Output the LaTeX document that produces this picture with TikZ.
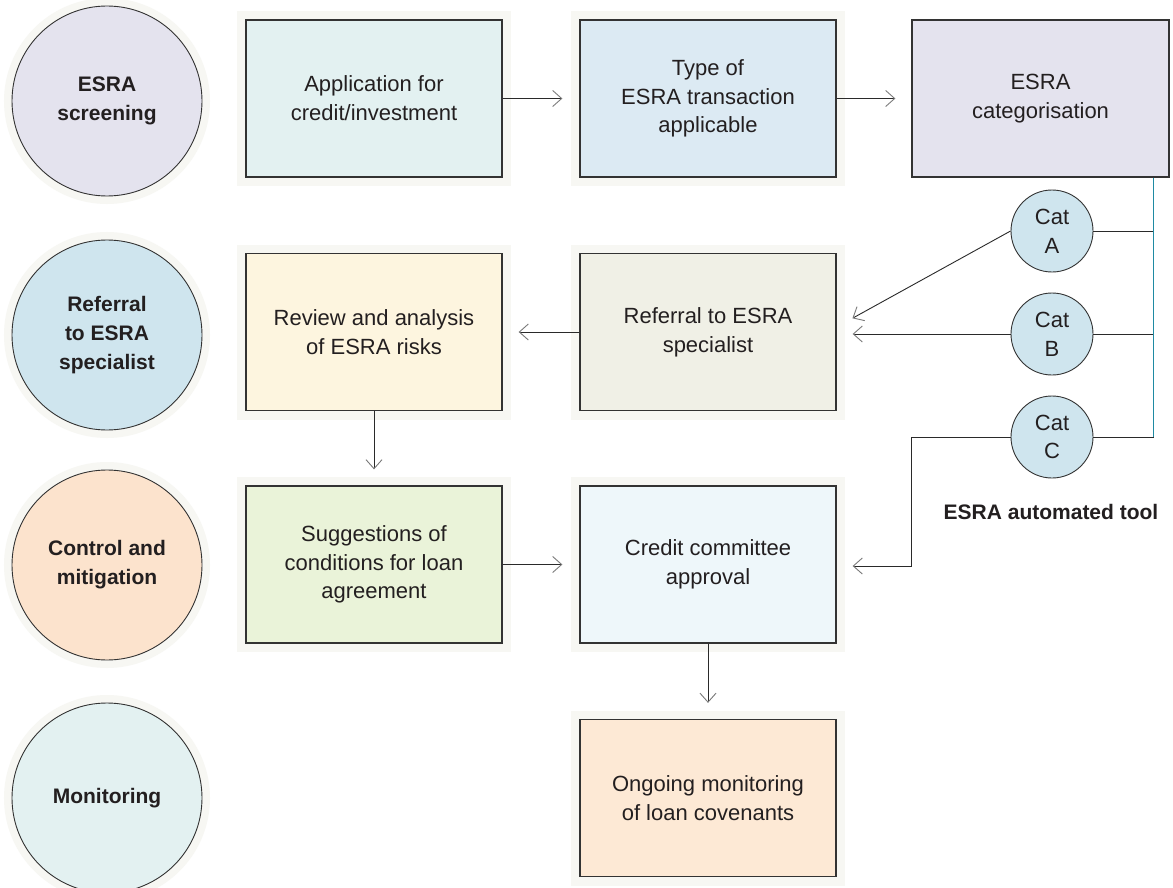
\documentclass[tikz,border=0pt]{standalone}
\usepackage{fontspec}
\setmainfont{Liberation Sans}
\usetikzlibrary{arrows.meta,calc}
\definecolor{txt}{HTML}{231F20}
\definecolor{boxline}{HTML}{333333}
\definecolor{lncol}{HTML}{2A2A2A}
\definecolor{tipcol}{HTML}{7A7A7A}
\definecolor{halocol}{HTML}{F7F7F3}
\definecolor{tealline}{HTML}{1F8AA3}
\definecolor{cLav}{HTML}{E4E3EE}
\definecolor{cBlue}{HTML}{CFE5EE}
\definecolor{cPeach}{HTML}{FCE3CD}
\definecolor{cCyan}{HTML}{E3F1F1}
\definecolor{bApp}{HTML}{E3F1F1}
\definecolor{bType}{HTML}{DCEAF3}
\definecolor{bRev}{HTML}{FDF5DF}
\definecolor{bRef}{HTML}{F0F0E6}
\definecolor{bSug}{HTML}{EAF3D9}
\definecolor{bCred}{HTML}{EEF7FA}
\definecolor{bMon}{HTML}{FDE9D5}
\newcommand{\myreg}{\fontsize{22}{28.8}\selectfont}
\newcommand{\mybold}{\bfseries\fontsize{21}{28.8}\selectfont}
\begin{document}
\begin{tikzpicture}[x=1pt,y=-1pt,
  stepbox/.style={rectangle, draw=boxline, line width=1.3pt, minimum width=256pt,
    minimum height=157pt, inner sep=0pt, align=center, font=\myreg, text=txt},
  halo/.style={preaction={draw=halocol, line width=18pt}},
  phase/.style={circle, draw=boxline, line width=0.9pt, minimum size=190pt,
    inner sep=0pt, align=center, font=\mybold, text=txt,
    preaction={draw=halocol, line width=16pt}},
  catnode/.style={circle, draw=boxline, line width=0.9pt, minimum size=82pt,
    inner sep=0pt, fill=cBlue, align=center, font=\myreg, text=txt},
  arr/.style={draw=lncol, line width=0.9pt,
    -{Straight Barb[length=9pt,width=16pt,line width=0.9pt,color=tipcol]}},
  plain/.style={draw=lncol, line width=0.9pt}
]
\path[use as bounding box, clip] (0,0) rectangle (1173,888);
\fill[white] (0,0) rectangle (1173,888);

% phases
\node[phase, fill=cLav]   (p1) at (107,101) {ESRA\\screening};
\node[phase, fill=cBlue]  (p2) at (107,335) {Referral\\to ESRA\\specialist};
\node[phase, fill=cPeach] (p3) at (107,565) {Control and\\mitigation};
\node[phase, fill=cCyan]  (p4) at (107,798) {Monitoring};

% boxes
\node[stepbox, halo, fill=bApp]  (b1) at (374,98.5) {Application for\\credit/investment};
\node[stepbox, halo, fill=bType] (b2) at (708,98.5) {Type of\\ESRA transaction\\applicable};
\node[stepbox, fill=cLav, minimum width=257pt] (b3) at (1040.5,98.5) {ESRA\\categorisation};
\node[stepbox, halo, fill=bRev]  (b4) at (374,332) {Review and analysis\\of ESRA risks};
\node[stepbox, halo, fill=bRef]  (b5) at (708,332) {Referral to ESRA\\specialist};
\node[stepbox, halo, fill=bSug]  (b6) at (374,564.5) {Suggestions of\\conditions for loan\\agreement};
\node[stepbox, halo, fill=bCred] (b7) at (708,564.5) {Credit committee\\approval};
\node[stepbox, halo, fill=bMon]  (b8) at (708,798) {Ongoing monitoring\\of loan covenants};

% categories
\node[catnode] (cA) at (1052,231) {Cat\\A};
\node[catnode] (cB) at (1052,334) {Cat\\B};
\node[catnode] (cC) at (1052,437) {Cat\\C};
\node[font=\mybold, text=txt] (tool) at (1051,512) {ESRA automated tool};

% category bus
\coordinate (busTop) at ($(b3.south east)+(-16,0)$);
\draw[plain] (cA.east) -- (cA.east -| busTop);
\draw[plain] (cB.east) -- (cB.east -| busTop);
\draw[plain] (cC.east) -- (cC.east -| busTop);
\draw[draw=tealline, line width=1pt] (busTop) -- (busTop |- cC.east);

% connectors
\draw[arr, shorten >=17pt] (b1.east) -- (b2.west);
\draw[arr, shorten >=16pt] (b2.east) -- (b3.west);
\draw[arr, shorten >=18pt] (cA.west) -- ($(b5.east)+(0,-5)$);
\draw[arr, shorten >=16pt] (cB.west) -- (b5.east |- cB.west);
\draw[arr, shorten >=16pt] (b5.west) -- (b4.east);
\draw[arr, shorten >=16pt] (b4.south) -- (b6.north);
\draw[arr, shorten >=17pt] (b6.east) -- (b7.west);
\draw[arr, shorten >=16pt] (cC.west) -- ($(cC.west)+(-99,0)$) |- ($(b7.east)+(0,1.5)$);
\draw[arr, shorten >=16pt] (b7.south) -- (b8.north);
\end{tikzpicture}
\end{document}
